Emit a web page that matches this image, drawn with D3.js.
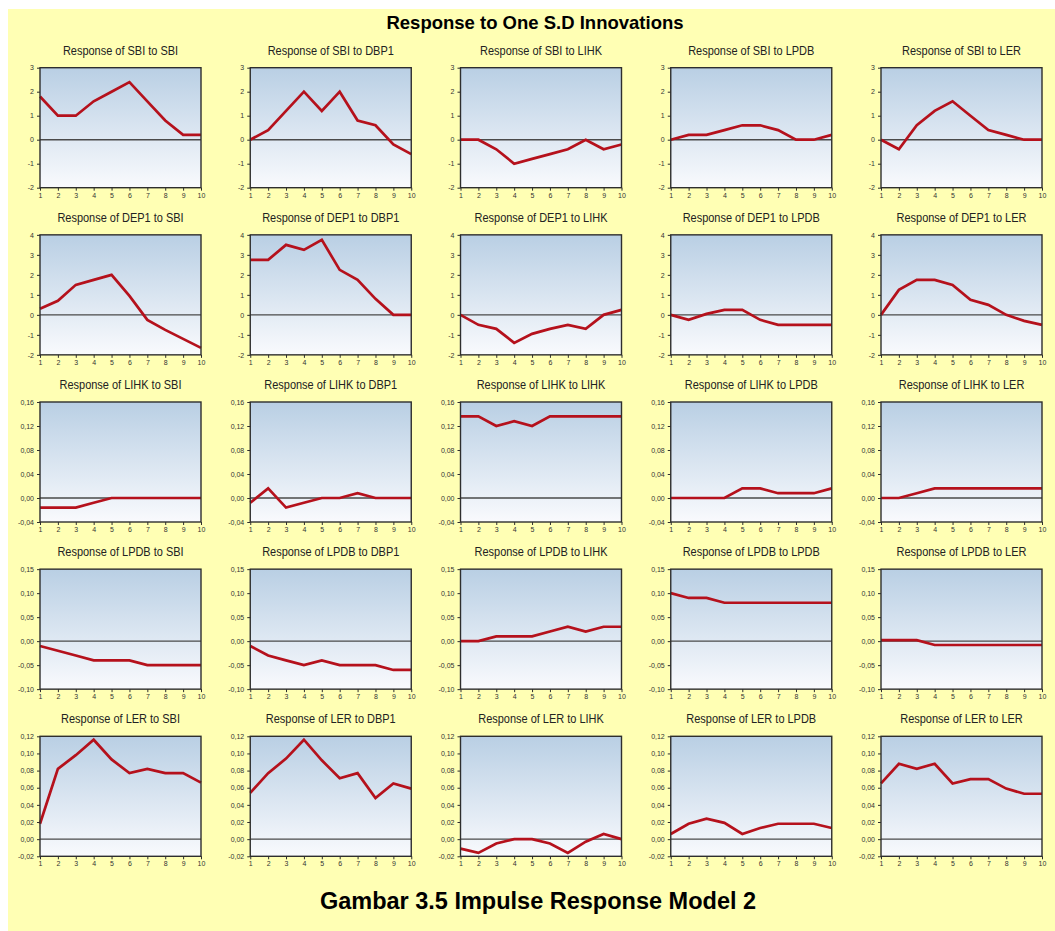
<!DOCTYPE html>
<html>
<head>
<meta charset="utf-8">
<script src="https://cdn.jsdelivr.net/npm/d3@7"></script>
<style>
  html, body { margin: 0; padding: 0; background: #ffffff; }
  svg { display: block; font-family: "Liberation Sans", Arial, sans-serif; }
</style>
</head>
<body>
<svg id="chart" width="1055" height="931"></svg>
<script>
// Impulse responses over 10 periods, one row per responding variable.
const periods = [1, 2, 3, 4, 5, 6, 7, 8, 9, 10];
const responders = ["SBI", "DEP1", "LIHK", "LPDB", "LER"];
const shocks = ["SBI", "DBP1", "LIHK", "LPDB", "LER"];

// Response of SBI
const sbiToSbi  = [1.8, 1.0, 1.0, 1.6, 2.0, 2.4, 1.6, 0.8, 0.2, 0.2];
const sbiToDbp1 = [0.0, 0.4, 1.2, 2.0, 1.2, 2.0, 0.8, 0.6, -0.2, -0.6];
const sbiToLihk = [0.0, 0.0, -0.4, -1.0, -0.8, -0.6, -0.4, 0.0, -0.4, -0.2];
const sbiToLpdb = [0.0, 0.2, 0.2, 0.4, 0.6, 0.6, 0.4, 0.0, 0.0, 0.2];
const sbiToLer  = [0.0, -0.4, 0.6, 1.2, 1.6, 1.0, 0.4, 0.2, 0.0, 0.0];

// Response of DEP1
const depToSbi  = [0.3, 0.7, 1.5, 1.75, 2.0, 0.95, -0.25, -0.75, -1.2, -1.65];
const depToDbp1 = [2.75, 2.75, 3.5, 3.25, 3.75, 2.25, 1.75, 0.8, 0.0, 0.0];
const depToLihk = [0.0, -0.5, -0.7, -1.4, -0.95, -0.7, -0.5, -0.7, 0.0, 0.25];
const depToLpdb = [0.0, -0.25, 0.05, 0.25, 0.25, -0.25, -0.5, -0.5, -0.5, -0.5];
const depToLer  = [0.0, 1.25, 1.75, 1.75, 1.5, 0.75, 0.5, 0.0, -0.3, -0.5];

// Response of LIHK
const lihkToSbi  = [-0.016, -0.016, -0.016, -0.008, 0, 0, 0, 0, 0, 0];
const lihkToDbp1 = [-0.008, 0.016, -0.016, -0.008, 0, 0, 0.008, 0, 0, 0];
const lihkToLihk = [0.136, 0.136, 0.12, 0.128, 0.12, 0.136, 0.136, 0.136, 0.136, 0.136];
const lihkToLpdb = [0, 0, 0, 0, 0.016, 0.016, 0.008, 0.008, 0.008, 0.016];
const lihkToLer  = [0, 0, 0.008, 0.016, 0.016, 0.016, 0.016, 0.016, 0.016, 0.016];

// Response of LPDB
const lpdbToSbi  = [-0.01, -0.02, -0.03, -0.04, -0.04, -0.04, -0.05, -0.05, -0.05, -0.05];
const lpdbToDbp1 = [-0.01, -0.03, -0.04, -0.05, -0.04, -0.05, -0.05, -0.05, -0.06, -0.06];
const lpdbToLihk = [0, 0, 0.01, 0.01, 0.01, 0.02, 0.03, 0.02, 0.03, 0.03];
const lpdbToLpdb = [0.10, 0.09, 0.09, 0.08, 0.08, 0.08, 0.08, 0.08, 0.08, 0.08];
const lpdbToLer  = [0.002, 0.002, 0.002, -0.008, -0.008, -0.008, -0.008, -0.008, -0.008, -0.008];

// Response of LER
const lerToSbi  = [0.018, 0.082, 0.098, 0.116, 0.093, 0.077, 0.082, 0.077, 0.077, 0.066];
const lerToDbp1 = [0.054, 0.077, 0.094, 0.116, 0.092, 0.071, 0.077, 0.048, 0.065, 0.059];
const lerToLihk = [-0.011, -0.016, -0.005, 0.0, 0.0, -0.005, -0.016, -0.003, 0.006, 0.0];
const lerToLpdb = [0.006, 0.018, 0.024, 0.019, 0.006, 0.013, 0.018, 0.018, 0.018, 0.013];
const lerToLer  = [0.065, 0.088, 0.082, 0.088, 0.065, 0.070, 0.070, 0.059, 0.053, 0.053];

const responses = [
  [sbiToSbi, sbiToDbp1, sbiToLihk, sbiToLpdb, sbiToLer],
  [depToSbi, depToDbp1, depToLihk, depToLpdb, depToLer],
  [lihkToSbi, lihkToDbp1, lihkToLihk, lihkToLpdb, lihkToLer],
  [lpdbToSbi, lpdbToDbp1, lpdbToLihk, lpdbToLpdb, lpdbToLer],
  [lerToSbi, lerToDbp1, lerToLihk, lerToLpdb, lerToLer]
];

// y-axis ticks per responding variable
const yTicks = [
  [-2, -1, 0, 1, 2, 3],
  [-2, -1, 0, 1, 2, 3, 4],
  [-0.04, 0.00, 0.04, 0.08, 0.12, 0.16],
  [-0.10, -0.05, 0.00, 0.05, 0.10, 0.15],
  [-0.02, 0.00, 0.02, 0.04, 0.06, 0.08, 0.10, 0.12]
];
const yDecimals = [0, 0, 2, 2, 2];

const svg = d3.select("#chart");

// page background
svg.append("rect").attr("x", 8).attr("y", 9).attr("width", 1047).attr("height", 922)
  .attr("fill", "#ffffb4");

// plot-area gradient
const defs = svg.append("defs");
const grad = defs.append("linearGradient").attr("id", "panelFill")
  .attr("x1", 0).attr("y1", 0).attr("x2", 0).attr("y2", 1);
grad.append("stop").attr("offset", "0%").attr("stop-color", "#b9cfe4");
grad.append("stop").attr("offset", "100%").attr("stop-color", "#f9fafd");

svg.append("text").attr("x", 535).attr("y", 28.5).attr("text-anchor", "middle")
  .attr("font-size", 18.5).attr("font-weight", "bold").attr("fill", "#000")
  .text("Response to One S.D Innovations");

svg.append("text").attr("x", 538).attr("y", 909).attr("text-anchor", "middle")
  .attr("font-size", 23.5).attr("font-weight", "bold").attr("fill", "#000")
  .text("Gambar 3.5 Impulse Response Model 2");

const panelW = 161, panelH = 120;
const colX = d3.scaleLinear().domain([0, 4]).range([40, 881]);
const rowY = d3.scaleLinear().domain([0, 4]).range([67.7, 736.3]);

responders.forEach((resp, r) => {
  shocks.forEach((shock, c) => {
    const left = colX(c), top = rowY(r);
    const g = svg.append("g").attr("transform", `translate(${left},${top})`);
    const ticks = yTicks[r];
    const x = d3.scaleLinear().domain([1, 10]).range([0, panelW]);
    const y = d3.scaleLinear().domain([ticks[0], ticks[ticks.length - 1]]).range([panelH, 0]);
    const fmt = v => d3.format(`.${yDecimals[r]}f`)(v).replace(".", ",").replace("−", "-");

    g.append("rect").attr("width", panelW).attr("height", panelH).attr("fill", "url(#panelFill)");

    // zero reference line
    g.append("line").attr("x1", 0).attr("x2", panelW).attr("y1", y(0)).attr("y2", y(0))
      .attr("stroke", "#4a4a4a").attr("stroke-width", 1.4);

    // response line
    const line = d3.line().x((d, i) => x(periods[i])).y(d => y(d));
    g.append("path").datum(responses[r][c]).attr("d", line)
      .attr("fill", "none").attr("stroke", "#b5111c").attr("stroke-width", 2.7)
      .attr("stroke-linejoin", "miter");

    g.append("rect").attr("width", panelW).attr("height", panelH)
      .attr("fill", "none").attr("stroke", "#2e2e2e").attr("stroke-width", 1.4);

    const yAxis = g.append("g").call(
      d3.axisLeft(y).tickValues(ticks).tickSize(3).tickPadding(3).tickFormat(fmt));
    const xAxis = g.append("g").attr("transform", `translate(0,${panelH})`).call(
      d3.axisBottom(x).tickValues(periods).tickSize(3).tickPadding(2).tickFormat(d3.format("d")));
    [yAxis, xAxis].forEach(a => {
      a.select(".domain").remove();
      a.selectAll(".tick line").attr("stroke", "#2e2e2e").attr("stroke-width", 1);
      a.selectAll(".tick text").attr("font-family", "'Liberation Sans', Arial, sans-serif")
        .attr("font-size", 7).attr("fill", "#333");
    });

    // panel title
    g.append("text")
      .attr("transform", `translate(${panelW / 2},-13) scale(0.9,1)`)
      .attr("text-anchor", "middle").attr("font-size", 12.2).attr("fill", "#222")
      .text(`Response of ${resp} to ${shock}`);
  });
});
</script>
</body>
</html>
